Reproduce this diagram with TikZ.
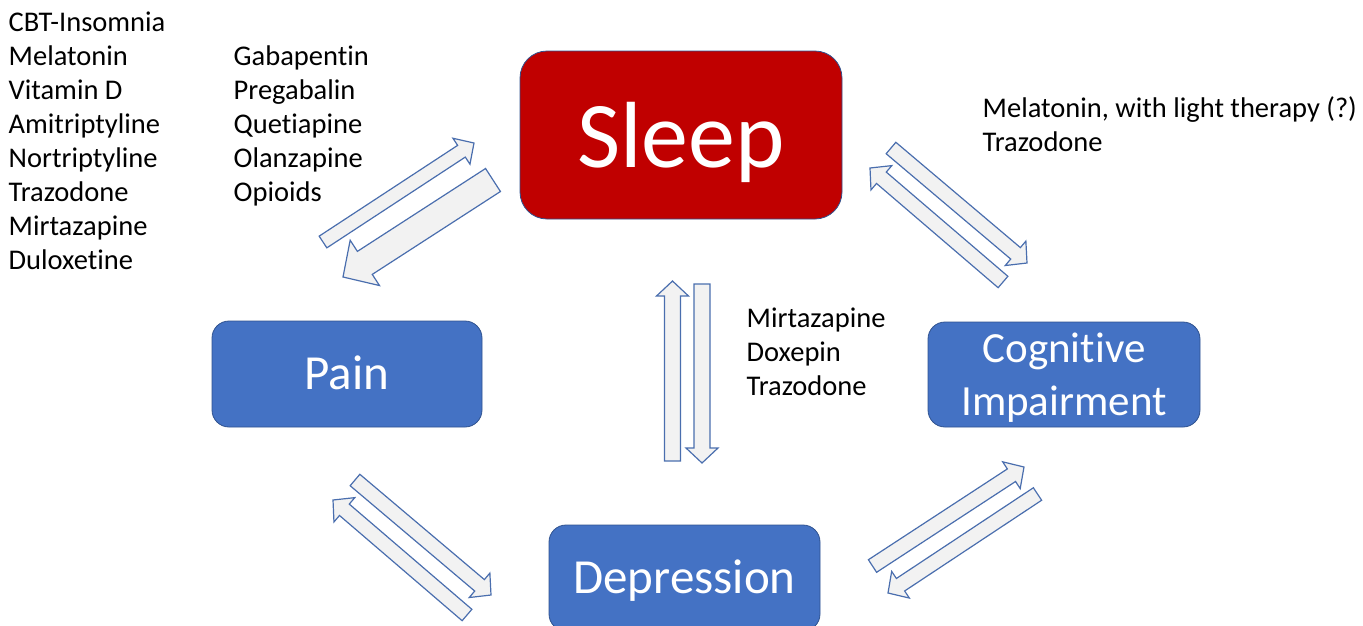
\documentclass[tikz,border=0pt]{standalone}
\usepackage{fontspec}
\setmainfont{Carlito}[Ligatures=NoCommon]
\usetikzlibrary{calc}
\definecolor{sleepred}{HTML}{C00000}
\definecolor{boxblue}{HTML}{4472C4}
\definecolor{boxedge}{HTML}{2F528F}
\definecolor{arrfill}{HTML}{F2F2F2}
\definecolor{arredge}{HTML}{4A6EAE}
\tikzset{
  blockarrow/.style={draw=arredge, fill=arrfill, line width=1.2pt, line join=miter},
  sleepbox/.style={draw=boxedge, line width=0.8pt, fill=sleepred, rounded corners=27pt, text=white,
    minimum width=322pt, minimum height=168pt, inner sep=0pt,
    font=\fontsize{94pt}{100pt}\selectfont, text height=64pt, text depth=0pt},
  bluebox/.style={draw=boxedge, line width=0.8pt, fill=boxblue, rounded corners=17pt, text=white,
    minimum width=270pt, minimum height=106pt, inner sep=0pt,
    font=\fontsize{49pt}{53pt}\selectfont},
  boxtext/.style={inner sep=0pt, text=white, align=center, font=\fontsize{43pt}{52.5pt}\selectfont},
  drug/.style={anchor=base west, inner sep=0pt, font=\fontsize{28.5pt}{34pt}\selectfont, text=black}
}
\newcommand\blockarrow[5]{%
  \coordinate (#1-c) at ($(#2)!#5!(#1)$);
  \draw[blockarrow] ($(#1)!#3!90:(#2)$) -- ($(#1-c)!#3!90:(#2)$) -- ($(#1-c)!#4!90:(#2)$) -- (#2)
    -- ($(#1-c)!#4!-90:(#2)$) -- ($(#1-c)!#3!-90:(#2)$) -- ($(#1)!#3!-90:(#2)$) -- cycle;
}
\begin{document}
\begin{tikzpicture}[x=1pt, y=-1pt]
\useasboundingbox (0,0) rectangle (1363,625);
\clip (0,0) rectangle (1363,625);

% boxes
\node[sleepbox] (sleep) at (681,135) {Sleep};
\node[bluebox, text height=31pt, text depth=0pt] (pain) at (347,374) {Pain};
\node[bluebox, minimum width=272pt, minimum height=105pt] (cog) at (1064,374.5) {};
\node[boxtext] (cogt) at ($(cog.center)+(0,3)$) {Cognitive\\Impairment};
\node[bluebox, minimum width=271pt, text height=31pt, text depth=0pt] (dep) at (684.5,578) {Depression};

% drug lists
\foreach \t [count=\i from 0] in {CBT-Insomnia,Melatonin,Vitamin D,Amitriptyline,Nortriptyline,Trazodone,Mirtazapine,Duloxetine}
  \node[drug] (l\i) at (8.5,31.5+34*\i) {\t};
\foreach \t [count=\i from 0] in {Gabapentin,Pregabalin,Quetiapine,Olanzapine,Opioids}
  \node[drug] (g\i) at (233.5,65.5+34*\i) {\t};
\node[drug] (r0) at (982.5,117) {Melatonin, with light therapy (?)};
\node[drug] (r1) at (982.5,151) {Trazodone};
\foreach \t [count=\i from 0] in {Mirtazapine,Doxepin,Trazodone}
  \node[drug] (m\i) at (746.5,327+34*\i) {\t};

% arrows
\coordinate (a1s) at (323,242);   \coordinate (a1t) at (474,143);
\coordinate (a2s) at (493,180);   \coordinate (a2t) at (343,277);
\coordinate (a3s) at (891,148);   \coordinate (a3t) at (1027,263);
\coordinate (a4s) at (1003,282);  \coordinate (a4t) at (870,168);
\coordinate (a5s) at (672.5,461); \coordinate (a5t) at (672.5,281);
\coordinate (a6s) at (702,284);   \coordinate (a6t) at (702,463);
\coordinate (a7s) at (355,480);   \coordinate (a7t) at (491,595);
\coordinate (a8s) at (467,615);   \coordinate (a8t) at (333,500);
\coordinate (a9s) at (872.5,566); \coordinate (a9t) at (1024,467);
\coordinate (a10s) at (1037.5,494); \coordinate (a10t) at (888,593);

\blockarrow{a1s}{a1t}{7pt}{15.5pt}{15pt}
\blockarrow{a2s}{a2t}{13.7pt}{27pt}{26pt}
\blockarrow{a3s}{a3t}{7.5pt}{16pt}{15pt}
\blockarrow{a4s}{a4t}{7.5pt}{16pt}{15pt}
\blockarrow{a5s}{a5t}{8pt}{16pt}{15pt}
\blockarrow{a6s}{a6t}{8pt}{16pt}{15pt}
\blockarrow{a7s}{a7t}{7.5pt}{16pt}{15pt}
\blockarrow{a8s}{a8t}{7.5pt}{16pt}{15pt}
\blockarrow{a9s}{a9t}{7.5pt}{16pt}{15pt}
\blockarrow{a10s}{a10t}{7.5pt}{16pt}{15pt}
\end{tikzpicture}
\end{document}
